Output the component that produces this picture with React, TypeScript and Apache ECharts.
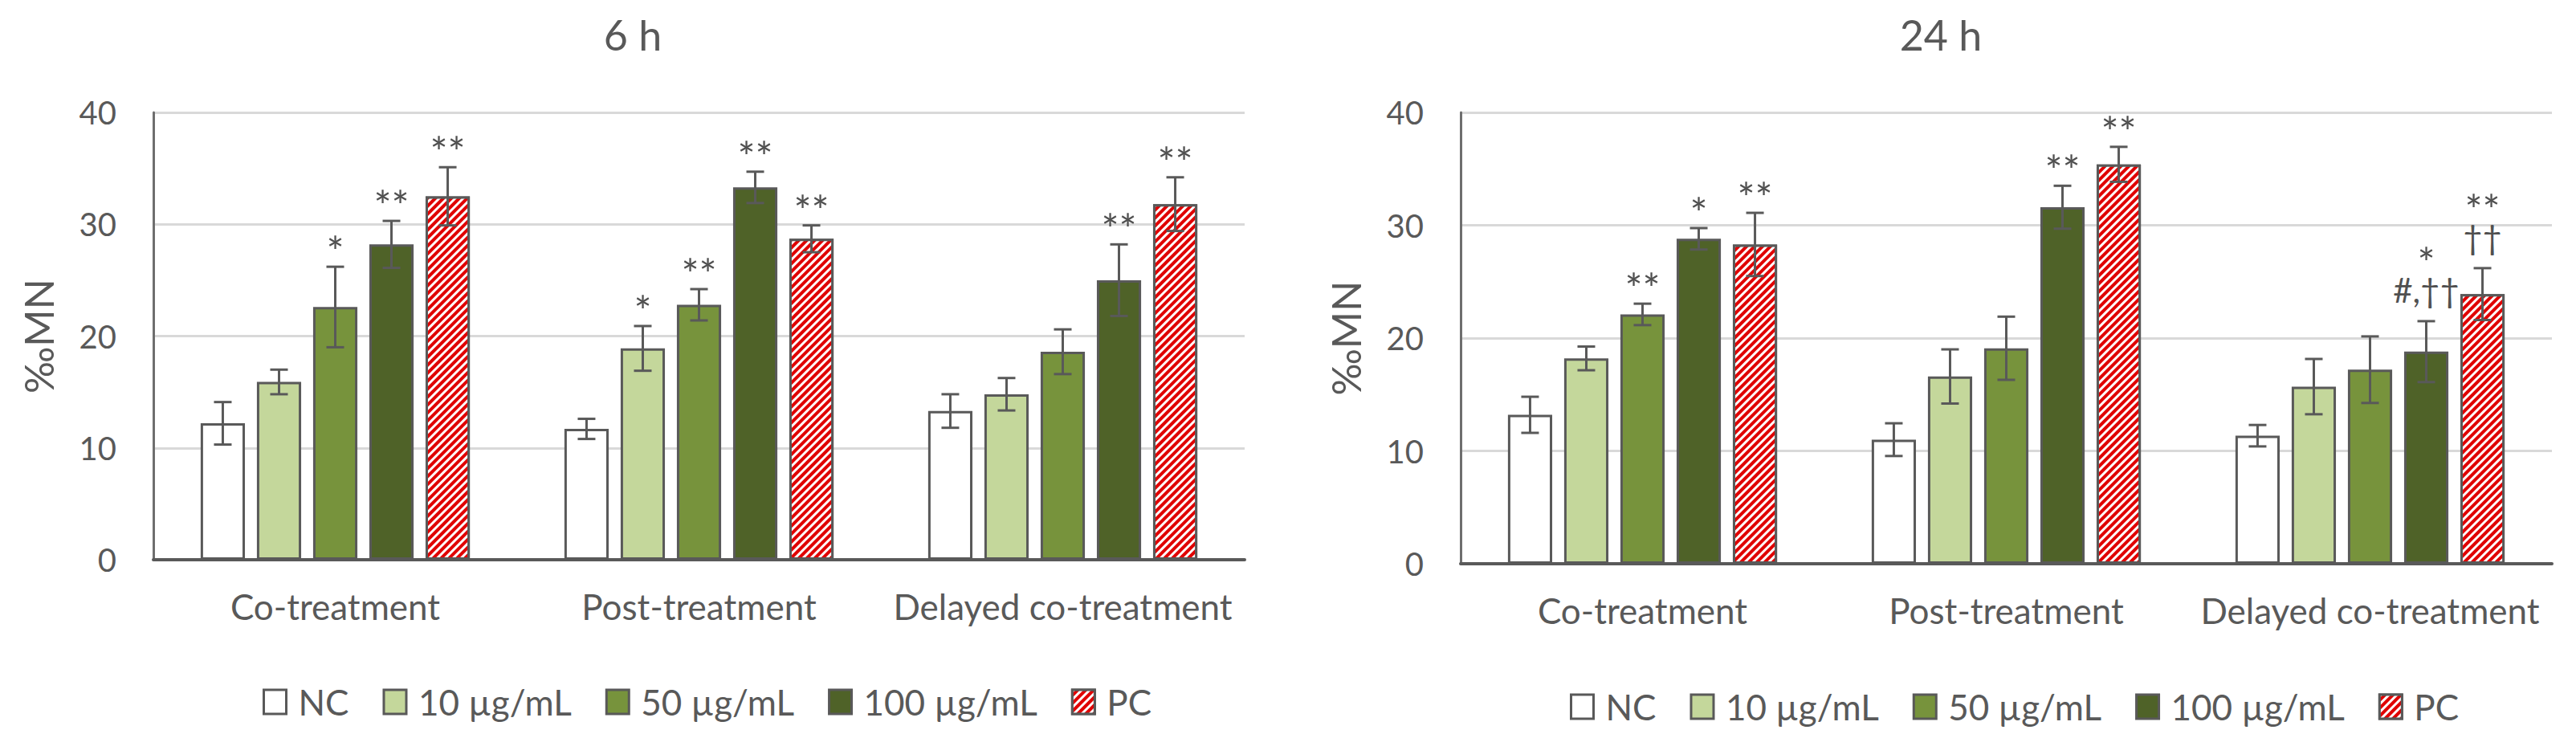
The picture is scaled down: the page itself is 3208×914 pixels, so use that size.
import React, { useEffect, useRef } from "react";
import * as echarts from "echarts";

const categories = ["Co-treatment", "Post-treatment", "Delayed co-treatment"];
const seriesNames = ["NC", "10 µg/mL", "50 µg/mL", "100 µg/mL", "PC"];
const yTicks = { min: 0, max: 40, interval: 10 };

// 6 h — means per concentration across categories
const nc6 = [12.2, 11.7, 13.3];
const c10_6 = [15.9, 18.9, 14.8];
const c50_6 = [22.6, 22.8, 18.6];
const c100_6 = [28.2, 33.3, 25.0];
const pc6 = [32.5, 28.7, 31.8];
// 6 h — error (± SD)
const nc6Err = [1.9, 0.9, 1.5];
const c10_6Err = [1.1, 2.0, 1.45];
const c50_6Err = [3.6, 1.4, 2.0];
const c100_6Err = [2.1, 1.4, 3.2];
const pc6Err = [2.6, 1.2, 2.4];
// 6 h — significance marks [series][category]
const nc6Sig = ["", "", ""];
const c10_6Sig = ["", "*", ""];
const c50_6Sig = ["*", "**", ""];
const c100_6Sig = ["**", "**", "**"];
const pc6Sig = ["**", "**", "**"];

// 24 h — means
const nc24 = [13.2, 11.0, 11.35];
const c10_24 = [18.2, 16.6, 15.7];
const c50_24 = [22.1, 19.1, 17.2];
const c100_24 = [28.8, 31.6, 18.8];
const pc24 = [28.3, 35.4, 23.9];
// 24 h — error
const nc24Err = [1.6, 1.45, 0.95];
const c10_24Err = [1.05, 2.4, 2.45];
const c50_24Err = [0.95, 2.8, 2.95];
const c100_24Err = [0.95, 1.9, 2.7];
const pc24Err = [2.8, 1.55, 2.3];
// 24 h — significance marks (lines from top to bottom)
const nc24Sig = ["", "", ""];
const c10_24Sig = ["", "", ""];
const c50_24Sig = ["**", "", ""];
const c100_24Sig = ["*", "**", "*\n#,††"];
const pc24Sig = ["**", "**", "**\n††"];

const colors = ["#FFFFFF", "#C4D79B", "#77933C", "#4F6228", "#E00000"];
const FONT = "Lato, 'Open Sans', sans-serif";
const TEXT = "#595959";
const BORDER = "#595959";
const CAT_GAP = 0.26;
const BAR_GAP = 0.27;

const charts = [
  {
    title: "6 h",
    means: [nc6, c10_6, c50_6, c100_6, pc6],
    errs: [nc6Err, c10_6Err, c50_6Err, c100_6Err, pc6Err],
    sigs: [nc6Sig, c10_6Sig, c50_6Sig, c100_6Sig, pc6Sig],
    grid: { left: 191, right: 3208 - 1550, top: 140, bottom: 914 - 697 },
    titleX: 783,
    legendX: 322,
    legendY: 847,
  },
  {
    title: "24 h",
    means: [nc24, c10_24, c50_24, c100_24, pc24],
    errs: [nc24Err, c10_24Err, c50_24Err, c100_24Err, pc24Err],
    sigs: [nc24Sig, c10_24Sig, c50_24Sig, c100_24Sig, pc24Sig],
    grid: { left: 1819, right: 3208 - 3178, top: 140, bottom: 914 - 702 },
    titleX: 2412,
    legendX: 1950,
    legendY: 853,
  },
];

const STAR_FONT = 52;
const DAGGER_FONT = 42;

function buildOption() {
  const n = seriesNames.length;
  const series: any[] = [];
  charts.forEach((ch, gi) => {
    seriesNames.forEach((name, si) => {
      const itemStyle: any = {
        color: colors[si],
        borderColor: BORDER,
        borderWidth: 3,
      };
      if (name === "PC") {
        itemStyle.decal = {
          symbol: "rect",
          symbolSize: 1,
          dashArrayX: [1, 0],
          dashArrayY: [2.5, 3.5],
          rotation: -Math.PI / 4,
          color: "#FFFFFF",
        };
      }
      series.push({
        type: "bar",
        name,
        xAxisIndex: gi,
        yAxisIndex: gi,
        data: ch.means[si],
        barCategoryGap: CAT_GAP * 100 + "%",
        barGap: BAR_GAP * 100 + "%",
        itemStyle,
        emphasis: { disabled: true },
      });
    });
    const errData: number[][] = [];
    const labels: string[] = [];
    for (let si = 0; si < n; si++) {
      for (let ci = 0; ci < categories.length; ci++) {
        errData.push([ci, si, ch.means[si][ci], ch.errs[si][ci]]);
        labels.push(ch.sigs[si][ci]);
      }
    }
    series.push({
      type: "custom",
      name: "err" + gi,
      xAxisIndex: gi,
      yAxisIndex: gi,
      z: 10,
      data: errData,
      encode: { x: 0, y: 2 },
      renderItem: (params: any, api: any) => {
        const ci = api.value(0);
        const si = api.value(1);
        const mean = api.value(2);
        const err = api.value(3);
        const band = api.size([1, 0])[0];
        const bw = (band * (1 - CAT_GAP)) / (n + (n - 1) * BAR_GAP);
        const total = n * bw + (n - 1) * bw * BAR_GAP;
        const cx = api.coord([ci, mean])[0] - total / 2 + si * bw * (1 + BAR_GAP) + bw / 2;
        const yTop = api.coord([ci, mean + err])[1];
        const yBot = api.coord([ci, mean - err])[1];
        const cap = 11;
        const ls = { stroke: "#595959", lineWidth: 3 };
        const children: any[] = [
          { type: "line", shape: { x1: cx, y1: yTop, x2: cx, y2: yBot }, style: ls },
          { type: "line", shape: { x1: cx - cap, y1: yTop, x2: cx + cap, y2: yTop }, style: ls },
          { type: "line", shape: { x1: cx - cap, y1: yBot, x2: cx + cap, y2: yBot }, style: ls },
        ];
        const lab = labels[params.dataIndex];
        if (lab) {
          const lines = lab.split("\n").reverse();
          let center = 0;
          lines.forEach((line, li) => {
            const isStar = /^\*+$/.test(line);
            if (li === 0) center = isStar ? yTop - 28 : yTop - 35;
            else center = center - 47;
            const y = isStar ? center + 9 : center - 4;
            children.push({
              type: "text",
              x: cx,
              y,
              style: {
                text: line,
                fill: "#505050",
                fontSize: isStar ? STAR_FONT : DAGGER_FONT,
                fontFamily: FONT,
                lineHeight: isStar ? 30 : 36,
                align: "center",
                verticalAlign: "middle",
              },
            });
          });
        }
        return { type: "group", children };
      },
    });
  });

  return {
    animation: false,
    backgroundColor: "#FFFFFF",
    title: charts.map((ch) => ({
      text: ch.title,
      left: ch.titleX,
      top: 12,
      textAlign: "center",
      textStyle: { fontSize: 52, fontWeight: "normal", color: TEXT, fontFamily: FONT },
    })),
    legend: charts.map((ch) => ({
      data: seriesNames,
      left: ch.legendX,
      top: ch.legendY,
      icon: "rect",
      itemWidth: 28,
      itemHeight: 30,
      itemGap: 42,
      selectedMode: false,
      itemStyle: { borderColor: BORDER, borderWidth: 3 },
      textStyle: { fontSize: 44, color: TEXT, fontFamily: FONT, padding: [0, 0, 0, 10] },
    })),
    grid: charts.map((ch) => ch.grid),
    xAxis: charts.map((_, gi) => ({
      type: "category",
      gridIndex: gi,
      data: categories,
      axisTick: { show: false },
      axisLine: { lineStyle: { color: "#595959", width: 4 } },
      axisLabel: { fontSize: 44, color: TEXT, fontFamily: FONT, margin: 36, interval: 0 },
      z: 5,
    })),
    yAxis: charts.map((_, gi) => ({
      type: "value",
      gridIndex: gi,
      min: yTicks.min,
      max: yTicks.max,
      interval: yTicks.interval,
      axisLine: { show: true, lineStyle: { color: "#6e6e6e", width: 3 } },
      axisTick: { show: false },
      splitLine: { lineStyle: { color: "#D9D9D9", width: 3 } },
      axisLabel: { fontSize: 40, color: TEXT, fontFamily: FONT, margin: 46 },
      name: "‰MN",
      nameLocation: "middle",
      nameGap: 118,
      nameTextStyle: { fontSize: 50, color: TEXT, fontFamily: FONT },
    })),
    series,
  };
}

export default function App() {
  const ref = useRef<HTMLDivElement>(null);
  useEffect(() => {
    if (!ref.current) return;
    const chart = echarts.init(ref.current, undefined, { renderer: "svg" });
    chart.setOption(buildOption() as any);
    return () => chart.dispose();
  }, []);
  return (
    <div
      ref={ref}
      style={{ position: "fixed", left: 0, top: 0, width: 3208, height: 914, background: "#fff" }}
    />
  );
}
